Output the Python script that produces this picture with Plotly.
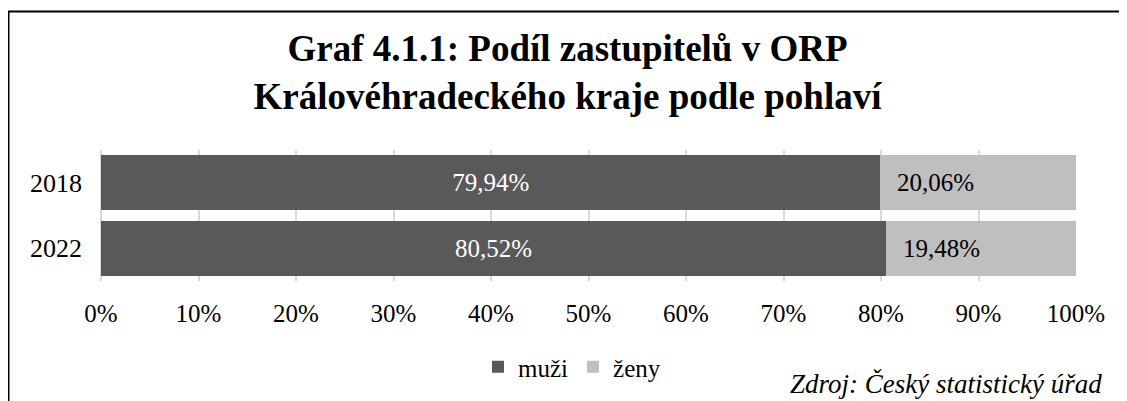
import plotly.graph_objects as go

years = ["2018", "2022"]
muzi = [79.94, 80.52]
zeny = [20.06, 19.48]
muzi_labels = ["79,94%", "80,52%"]
zeny_labels = ["20,06%", "19,48%"]
x_ticks = [0, 0.1, 0.2, 0.3, 0.4, 0.5, 0.6, 0.7, 0.8, 0.9, 1.0]
x_tick_labels = ["0%", "10%", "20%", "30%", "40%", "50%", "60%", "70%", "80%", "90%", "100%"]

# page body has an 8px margin, so the figure is drawn 8px smaller
OFF = 8
W, H = 1127 - OFF, 401 - OFF
ML, MR, MT, MB = 93, 51, 142, 119
PW, PH = W - ML - MR, H - MT - MB


def px_x(x):
    return (x - ML) / PW


def px_y(y):
    return (H - MB - y) / PH


FONT = "Liberation Serif, Times New Roman, serif"

fig = go.Figure()
fig.add_trace(go.Bar(
    y=years, x=[v / 100 for v in muzi], orientation="h", name="muži",
    marker=dict(color="#595959", line=dict(width=0)),
    text=muzi_labels, textposition="inside", insidetextanchor="middle",
    textfont=dict(family=FONT, size=25, color="white"),
    hoverinfo="skip",
))
fig.add_trace(go.Bar(
    y=years, x=[v / 100 for v in zeny], orientation="h", name="ženy",
    marker=dict(color="#bfbfbf", line=dict(width=0)),
    hoverinfo="skip",
))

annotations = []
for i, (m, lab) in enumerate(zip(muzi, zeny_labels)):
    annotations.append(dict(
        x=m / 100, y=i, xref="x", yref="y", text=lab, showarrow=False,
        xanchor="left", yanchor="middle", xshift=15,
        font=dict(family=FONT, size=25, color="black"),
    ))
annotations.append(dict(
    x=px_x(1096), y=px_y(378), xref="paper", yref="paper",
    text="<i>Zdroj: Český statistický úřad</i>", showarrow=False,
    xanchor="right", yanchor="middle",
    font=dict(family=FONT, size=27, color="black"),
))

shapes = [
    dict(type="line", xref="paper", yref="paper",
         x0=px_x(0), x1=px_x(W + 5), y0=px_y(2.5), y1=px_y(2.5),
         line=dict(color="black", width=2)),
    dict(type="line", xref="paper", yref="paper",
         x0=px_x(0), x1=px_x(0), y0=px_y(2), y1=px_y(H + 5),
         line=dict(color="black", width=3)),
]

fig.update_layout(
    width=W, height=H,
    margin=dict(l=ML, r=MR, t=MT, b=MB, pad=0),
    paper_bgcolor="white", plot_bgcolor="white",
    barmode="stack", bargap=0.167,
    title=dict(
        text="<b>Graf 4.1.1: Podíl zastupitelů v ORP<br>Královéhradeckého kraje podle pohlaví</b>",
        x=0.5, xref="container", xanchor="center",
        y=1 - 53 / H, yref="container", yanchor="middle",
        font=dict(family=FONT, size=37, color="black"),
    ),
    font=dict(family=FONT, size=25, color="black"),
    xaxis=dict(
        range=[0, 1], tickvals=x_ticks, ticktext=x_tick_labels,
        showgrid=True, gridcolor="#d9d9d9", gridwidth=1.5,
        zeroline=True, zerolinecolor="#d9d9d9", zerolinewidth=1.5,
        showline=False, ticks="", ticklabelstandoff=15,
        tickfont=dict(family=FONT, size=25, color="black"),
        fixedrange=True,
    ),
    yaxis=dict(
        type="category", categoryorder="array", categoryarray=years,
        range=[1.5, -0.5], showgrid=False, zeroline=False, showline=False,
        ticks="", ticklabelstandoff=18,
        tickfont=dict(family=FONT, size=26, color="black"),
        fixedrange=True,
    ),
    legend=dict(
        orientation="h", x=px_x(564), xanchor="center",
        y=px_y(359), yanchor="middle",
        font=dict(family=FONT, size=25, color="black"),
        itemwidth=30, traceorder="normal",
        bgcolor="rgba(0,0,0,0)",
    ),
    annotations=annotations,
    shapes=shapes,
    showlegend=True,
)

fig.write_html("out.html")
